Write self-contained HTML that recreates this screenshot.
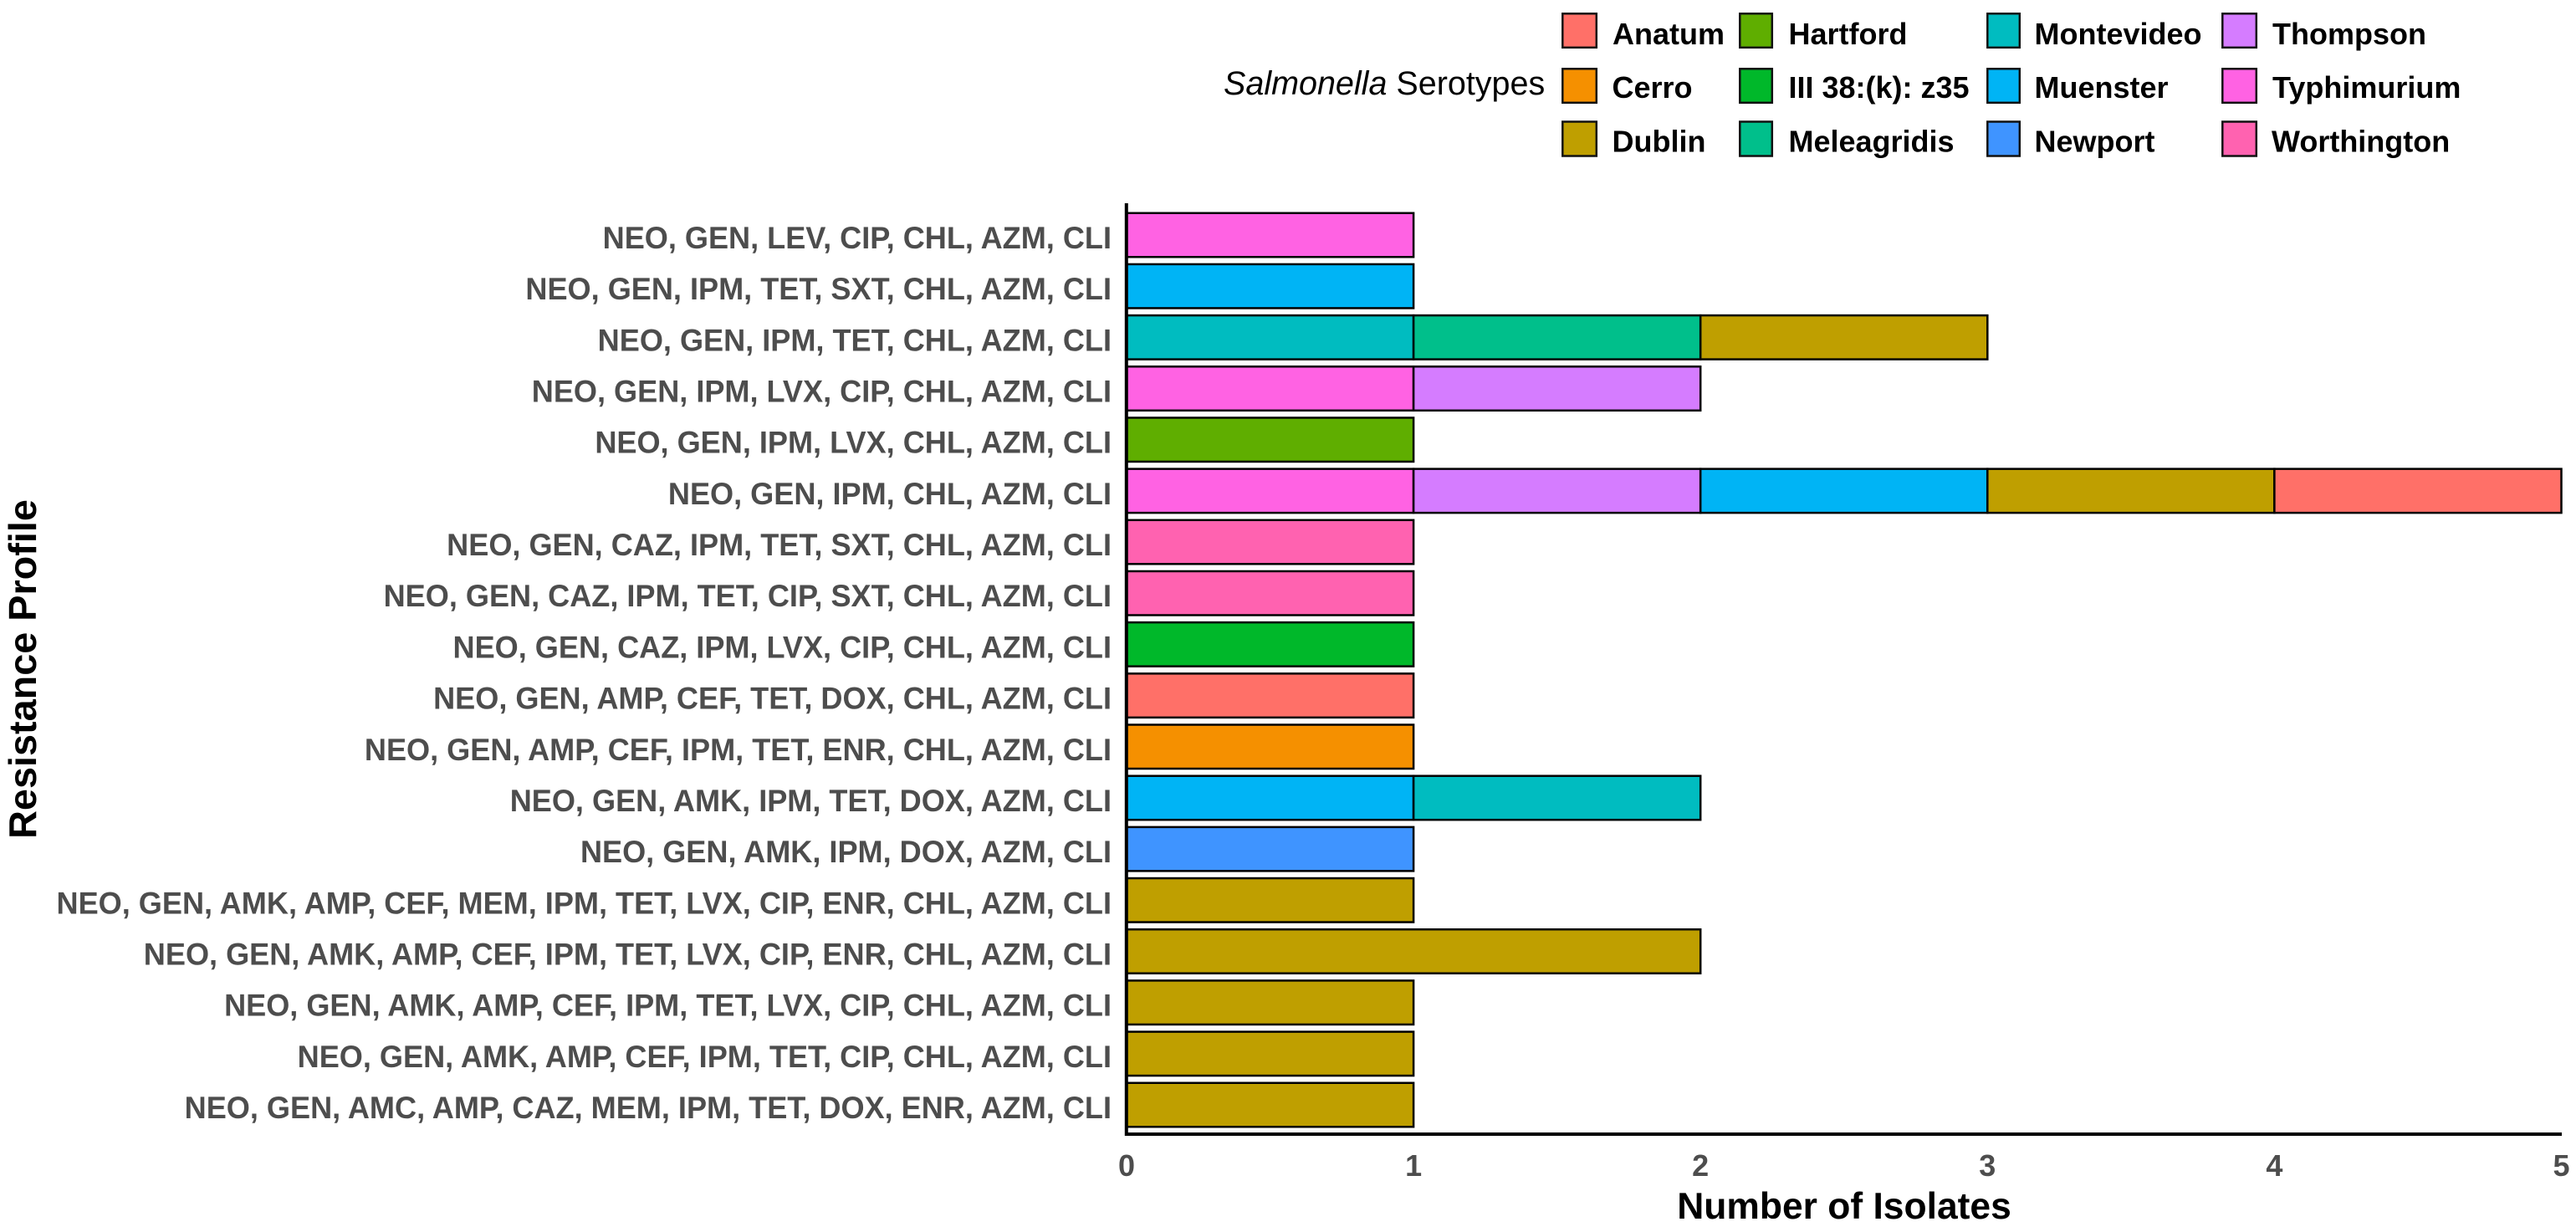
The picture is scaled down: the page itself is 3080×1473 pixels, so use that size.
<!DOCTYPE html>
<html lang="en">
<head>
<meta charset="utf-8">
<title>Resistance profiles by Salmonella serotype</title>
<style>
html,body{margin:0;padding:0;background:#fff;}
svg{display:block;font-family:"Liberation Sans",Arial,sans-serif;}
.ytick{font-size:37.5px;font-weight:700;fill:#4d4d4d;text-anchor:end;}
.xtick{font-size:36px;font-weight:700;fill:#4d4d4d;text-anchor:middle;}
.axis-title{font-weight:700;fill:#000;text-anchor:middle;}
.legend-label{font-size:36px;font-weight:700;fill:#000;}
.legend-title{font-size:39.5px;fill:#000;}
.swatch{stroke:#111;stroke-width:2.5;}
.seg{stroke:#000;stroke-width:2.5;}
</style>
</head>
<body>
<svg id="chart" xmlns="http://www.w3.org/2000/svg" width="3080" height="1473" viewBox="0 0 3080 1473">
  <rect x="0" y="0" width="3080" height="1473" fill="#fff"/>
  <g id="bars"></g>
  <g id="yticks"></g>
  <g id="xticks"></g>
  <line x1="1346.8" y1="243" x2="1346.8" y2="1358" stroke="#000" stroke-width="4"/>
  <line x1="1345" y1="1356" x2="3063" y2="1356" stroke="#000" stroke-width="4"/>
  <text class="axis-title" font-size="46.8" transform="translate(43 800) rotate(-90)">Resistance Profile</text>
  <text class="axis-title" font-size="44.4" x="2205" y="1457">Number of Isolates</text>
  <g>
    <text class="legend-title" x="1463" y="113"><tspan font-style="italic">Salmonella</tspan> Serotypes</text>
    <g><rect class="swatch" x="1868.3" y="16.3" width="40.5" height="40.5" fill="#ff7068"/><text class="legend-label" x="1928" y="53">Anatum</text></g>
    <g><rect class="swatch" x="1868.3" y="82.3" width="40.5" height="40.5" fill="#f59000"/><text class="legend-label" x="1927.5" y="117">Cerro</text></g>
    <g><rect class="swatch" x="1868.3" y="145.5" width="40.5" height="41" fill="#bf9f00"/><text class="legend-label" x="1927.5" y="181.5">Dublin</text></g>
    <g><rect class="swatch" x="2080.3" y="16.3" width="38.5" height="40.5" fill="#5fae00"/><text class="legend-label" x="2138.5" y="53">Hartford</text></g>
    <g><rect class="swatch" x="2080.3" y="82.3" width="38.5" height="40.5" fill="#00b82a"/><text class="legend-label" x="2138.5" y="117">III 38:(k): z35</text></g>
    <g><rect class="swatch" x="2080.3" y="145.5" width="38.5" height="41" fill="#00bf8b"/><text class="legend-label" x="2138.5" y="181.5">Meleagridis</text></g>
    <g><rect class="swatch" x="2376.3" y="16.3" width="38.5" height="40.5" fill="#00bcc0"/><text class="legend-label" x="2432.5" y="53">Montevideo</text></g>
    <g><rect class="swatch" x="2376.3" y="82.3" width="38.5" height="40.5" fill="#00b4f5"/><text class="legend-label" x="2432.5" y="117">Muenster</text></g>
    <g><rect class="swatch" x="2376.3" y="145.5" width="38.5" height="41" fill="#3f94ff"/><text class="legend-label" x="2432.5" y="181.5">Newport</text></g>
    <g><rect class="swatch" x="2657.3" y="16.3" width="40.5" height="40.5" fill="#d57cff"/><text class="legend-label" x="2717" y="53">Thompson</text></g>
    <g><rect class="swatch" x="2657.3" y="82.3" width="40.5" height="40.5" fill="#ff62e3"/><text class="legend-label" x="2717" y="117">Typhimurium</text></g>
    <g><rect class="swatch" x="2657.3" y="145.5" width="40.5" height="41" fill="#ff62b0"/><text class="legend-label" x="2716" y="181.5">Worthington</text></g>
  </g>
</svg>
<script>
const profiles = [
  "NEO, GEN, LEV, CIP, CHL, AZM, CLI",
  "NEO, GEN, IPM, TET, SXT, CHL, AZM, CLI",
  "NEO, GEN, IPM, TET, CHL, AZM, CLI",
  "NEO, GEN, IPM, LVX, CIP, CHL, AZM, CLI",
  "NEO, GEN, IPM, LVX, CHL, AZM, CLI",
  "NEO, GEN, IPM, CHL, AZM, CLI",
  "NEO, GEN, CAZ, IPM, TET, SXT, CHL, AZM, CLI",
  "NEO, GEN, CAZ, IPM, TET, CIP, SXT, CHL, AZM, CLI",
  "NEO, GEN, CAZ, IPM, LVX, CIP, CHL, AZM, CLI",
  "NEO, GEN, AMP, CEF, TET, DOX, CHL, AZM, CLI",
  "NEO, GEN, AMP, CEF, IPM, TET, ENR, CHL, AZM, CLI",
  "NEO, GEN, AMK, IPM, TET, DOX, AZM, CLI",
  "NEO, GEN, AMK, IPM, DOX, AZM, CLI",
  "NEO, GEN, AMK, AMP, CEF, MEM, IPM, TET, LVX, CIP, ENR, CHL, AZM, CLI",
  "NEO, GEN, AMK, AMP, CEF, IPM, TET, LVX, CIP, ENR, CHL, AZM, CLI",
  "NEO, GEN, AMK, AMP, CEF, IPM, TET, LVX, CIP, CHL, AZM, CLI",
  "NEO, GEN, AMK, AMP, CEF, IPM, TET, CIP, CHL, AZM, CLI",
  "NEO, GEN, AMC, AMP, CAZ, MEM, IPM, TET, DOX, ENR, AZM, CLI"
];
const serotypes = ["Anatum","Cerro","Dublin","Hartford","III 38:(k): z35","Meleagridis","Montevideo","Muenster","Newport","Thompson","Typhimurium","Worthington"];
const anatum      = [0,0,0,0,0,1,0,0,0,1,0,0,0,0,0,0,0,0];
const cerro       = [0,0,0,0,0,0,0,0,0,0,1,0,0,0,0,0,0,0];
const dublin      = [0,0,1,0,0,1,0,0,0,0,0,0,0,1,2,1,1,1];
const hartford    = [0,0,0,0,1,0,0,0,0,0,0,0,0,0,0,0,0,0];
const iii38       = [0,0,0,0,0,0,0,0,1,0,0,0,0,0,0,0,0,0];
const meleagridis = [0,0,1,0,0,0,0,0,0,0,0,0,0,0,0,0,0,0];
const montevideo  = [0,0,1,0,0,0,0,0,0,0,0,1,0,0,0,0,0,0];
const muenster    = [0,1,0,0,0,1,0,0,0,0,0,1,0,0,0,0,0,0];
const newport     = [0,0,0,0,0,0,0,0,0,0,0,0,1,0,0,0,0,0];
const thompson    = [0,0,0,1,0,1,0,0,0,0,0,0,0,0,0,0,0,0];
const typhimurium = [1,0,0,1,0,1,0,0,0,0,0,0,0,0,0,0,0,0];
const worthington = [0,0,0,0,0,0,1,1,0,0,0,0,0,0,0,0,0,0];
const xTickLabels = [0,1,2,3,4,5];

const seriesValues = [anatum,cerro,dublin,hartford,iii38,meleagridis,montevideo,muenster,newport,thompson,typhimurium,worthington];
const seriesColors = ["#ff7068","#f59000","#bf9f00","#5fae00","#00b82a","#00bf8b","#00bcc0","#00b4f5","#3f94ff","#d57cff","#ff62e3","#ff62b0"];

const SVGNS = "http://www.w3.org/2000/svg";
function xScale(v){ return 1347 + v * 343.1; }
function yCenter(i){ return 281 + i * (1040 / (profiles.length - 1)); }
const barHeight = 52.5;

const barsG = document.getElementById("bars");
const yG = document.getElementById("yticks");
const xG = document.getElementById("xticks");

profiles.forEach(function(label, i){
  const t = document.createElementNS(SVGNS, "text");
  t.setAttribute("class", "ytick");
  t.setAttribute("transform", "translate(1329 " + (yCenter(i) + 16) + ") scale(0.963 1)");
  
  
  t.textContent = label;
  yG.appendChild(t);

  let cum = 0;
  for (let s = serotypes.length - 1; s >= 0; s--) {
    const v = seriesValues[s][i];
    if (!v) continue;
    const r = document.createElementNS(SVGNS, "rect");
    r.setAttribute("class", "seg");
    r.setAttribute("x", xScale(cum));
    r.setAttribute("y", yCenter(i) - barHeight / 2);
    r.setAttribute("width", xScale(cum + v) - xScale(cum));
    r.setAttribute("height", barHeight);
    r.setAttribute("fill", seriesColors[s]);
    
    
    const tip = document.createElementNS(SVGNS, "title");
    tip.textContent = serotypes[s] + ": " + v;
    r.appendChild(tip);
    barsG.appendChild(r);
    cum += v;
  }
});

xTickLabels.forEach(function(v){
  const t = document.createElementNS(SVGNS, "text");
  t.setAttribute("class", "xtick");
  t.setAttribute("x", xScale(v));
  t.setAttribute("y", 1406);
  
  
  t.textContent = v;
  xG.appendChild(t);
});
</script>
</body>
</html>
